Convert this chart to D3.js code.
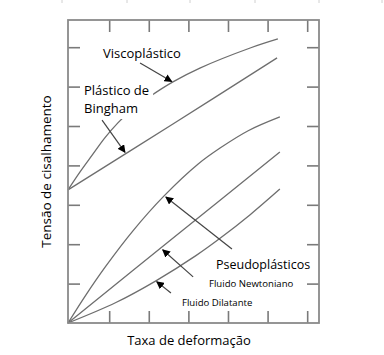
<!DOCTYPE html>
<html><head><meta charset="utf-8">
<script src="https://cdn.jsdelivr.net/npm/d3@7"></script>
<style>html,body{margin:0;padding:0;background:#fff;}svg{display:block;}</style>
</head><body>
<script>
// ---- data ----
const xTicks = [1.04, 2.04, 3.04, 4.04, 5.04, 6.04];
const yTicks = [1, 2, 3, 4, 5, 6, 7];
const viscoX = [0, 0.30, 0.61, 0.93, 1.26, 1.56, 2.07, 2.65, 3.33, 4.60, 5.30];
const viscoY = [3.38, 3.83, 4.26, 4.70, 5.08, 5.37, 5.75, 6.12, 6.47, 6.98, 7.21];
const binghamX = [0, 2.65, 5.28];
const binghamY = [3.38, 5.05, 6.73];
const pseudoX = [0, 0.45, 0.96, 1.64, 2.42, 3.28, 3.84, 4.55, 5.35];
const pseudoY = [0, 0.71, 1.45, 2.34, 3.22, 4.03, 4.44, 4.88, 5.23];
const newtonX = [0, 2.67, 5.35];
const newtonY = [0, 2.17, 4.34];
const dilatX = [0, 1.21, 2.22, 3.23, 3.84, 4.60, 5.35];
const dilatY = [0, 0.52, 1.07, 1.71, 2.15, 2.75, 3.40];
const xTitle = "Taxa de deformação";
const yTitle = "Tensão de cisalhamento";
// annotation arrows: [x1, y1, x2, y2] in data units (tail -> head)
const arrowVisco = [1.82, 6.60, 2.62, 6.13];
const arrowBingham = [0.86, 5.15, 1.44, 4.33];
const arrowPseudo = [4.14, 1.88, 2.47, 3.20];
const arrowNewton = [3.16, 1.17, 2.39, 1.86];
const arrowDilat = [2.60, 0.76, 2.24, 1.05];

const W = 384, H = 355;
const L = 68, R = 319, T = 20, B = 323;
const x = d3.scaleLinear().domain([0, (R - L) / 39.6]).range([L, R]);
const y = d3.scaleLinear().domain([0, (B - T) / 39.4]).range([B, T]);

const svg = d3.select("body").append("svg").attr("width", W).attr("height", H)
  .style("font-family", "'Open Sans', 'Noto Sans', sans-serif");

// faint cell borders at very top
[62, 127, 190, 255, 319, 382].forEach(px => {
  svg.append("line").attr("x1", px).attr("x2", px).attr("y1", 0).attr("y2", 3)
    .attr("stroke", "#d0d0d0").attr("stroke-width", 1);
});

const tickColor = "#7a7a7a";
function styleAxis(g) {
  g.select(".domain").remove();
  g.selectAll(".tick line").attr("stroke", tickColor).attr("stroke-width", 1.6);
  g.selectAll(".tick text").remove();
}
svg.append("g").attr("transform", `translate(0,${B})`)
  .call(d3.axisBottom(x).tickValues(xTicks).tickSize(-12).tickFormat("")).call(styleAxis);
svg.append("g").attr("transform", `translate(0,${T})`)
  .call(d3.axisTop(x).tickValues(xTicks).tickSize(-12).tickFormat("")).call(styleAxis);
svg.append("g").attr("transform", `translate(${L},0)`)
  .call(d3.axisLeft(y).tickValues(yTicks).tickSize(-12).tickFormat("")).call(styleAxis);
svg.append("g").attr("transform", `translate(${R},0)`)
  .call(d3.axisRight(y).tickValues(yTicks).tickSize(-12).tickFormat("")).call(styleAxis);

// curves
const line = d3.line().x(d => x(d[0])).y(d => y(d[1])).curve(d3.curveCatmullRom.alpha(0.5));
const series = [
  [viscoX, viscoY], [binghamX, binghamY], [pseudoX, pseudoY],
  [newtonX, newtonY], [dilatX, dilatY]
];
series.forEach(([xs, ys]) => {
  svg.append("path").datum(xs.map((v, i) => [v, ys[i]]))
    .attr("d", line).attr("fill", "none").attr("stroke", "#6e6e6e").attr("stroke-width", 1.3);
});

// frame
svg.append("rect").attr("x", L).attr("y", T).attr("width", R - L).attr("height", B - T)
  .attr("fill", "none").attr("stroke", "#8a8a8a").attr("stroke-width", 1.8);

// labels with white boxes
function label(lines, px, py, size, lh) {
  const g = svg.append("g");
  const rect = g.append("rect").attr("fill", "#fff");
  const t = g.append("text").attr("x", px).attr("y", py).attr("font-size", size).attr("fill", "#000");
  lines.forEach((s, i) => t.append("tspan").attr("x", px).attr("dy", i ? lh : 0).text(s));
  const bb = t.node().getBBox();
  rect.attr("x", bb.x - 4).attr("y", bb.y - 2).attr("width", bb.width + 8).attr("height", bb.height + 4);
  return g;
}
label(["Viscoplástico"], 103, 58, 13, 0);
label(["Plástico de", "Bingham"], 84, 95, 13, 18);
label(["Pseudoplásticos"], 216, 269, 12.5, 0);
label(["Fluido Newtoniano"], 209, 287, 9.6, 0);
label(["Fluido Dilatante"], 182, 306, 9.6, 0);

// arrows
svg.append("defs").append("marker").attr("id", "ah")
  .attr("viewBox", "0 0 10 10").attr("refX", 9).attr("refY", 5)
  .attr("markerWidth", 8).attr("markerHeight", 8).attr("markerUnits", "userSpaceOnUse")
  .attr("orient", "auto")
  .append("path").attr("d", "M0,0 L10,5 L0,10 Z").attr("fill", "#000");
[arrowVisco, arrowBingham, arrowPseudo, arrowNewton, arrowDilat].forEach(a => {
  svg.append("line").attr("x1", x(a[0])).attr("y1", y(a[1])).attr("x2", x(a[2])).attr("y2", y(a[3]))
    .attr("stroke", "#444").attr("stroke-width", 1.2).attr("marker-end", "url(#ah)");
});

// axis titles
svg.append("text").attr("x", 189).attr("y", 345).attr("text-anchor", "middle")
  .attr("font-size", 13).attr("fill", "#000").text(xTitle);
svg.append("text").attr("transform", `translate(51,${(T + B) / 2}) rotate(-90)`)
  .attr("text-anchor", "middle").attr("font-size", 13.5).attr("fill", "#000").text(yTitle);
</script>
</body></html>
